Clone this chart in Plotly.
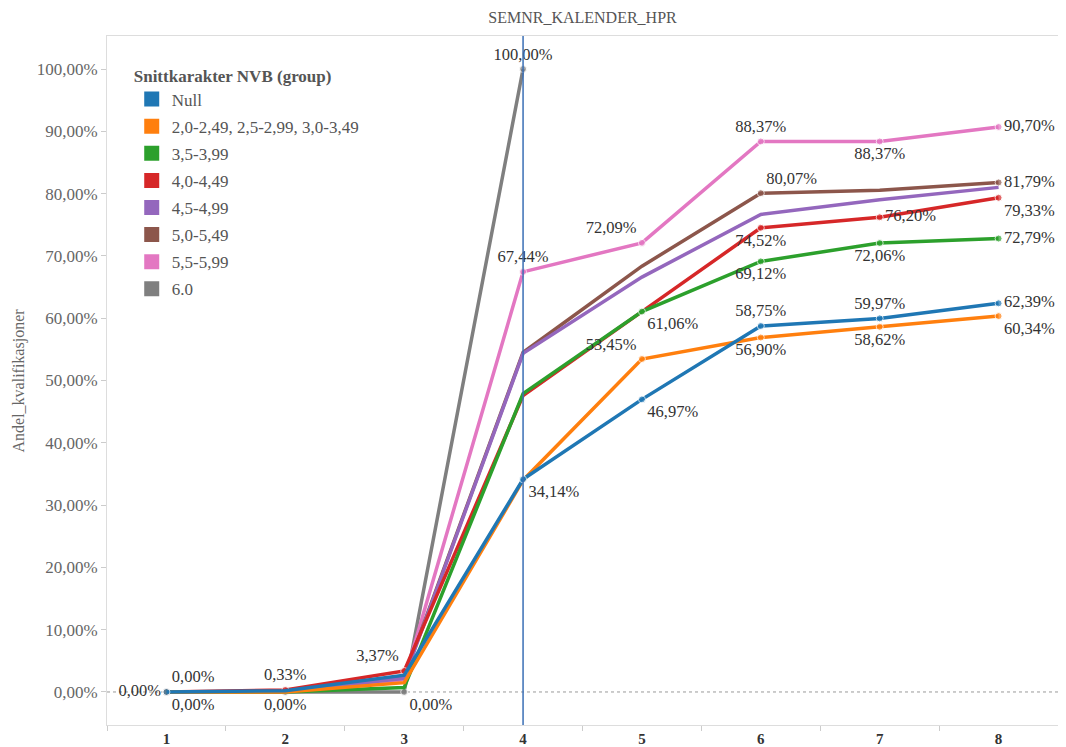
import plotly.graph_objects as go

kategorier = ["1", "2", "3", "4", "5", "6", "7", "8"]

grupper = ["Null", "2,0-2,49, 2,5-2,99, 3,0-3,49", "3,5-3,99", "4,0-4,49",
           "4,5-4,99", "5,0-5,49", "5,5-5,99", "6.0"]
farger = ["#1f77b4", "#ff7f0e", "#2ca02c", "#d62728",
          "#9467bd", "#8c564b", "#e377c2", "#7f7f7f"]

# andel kvalifikasjoner per semester (lest av bildet)
null_v = [0.0, 0.002, 0.027, 0.3414, 0.4697, 0.5875, 0.5997, 0.6239]
g20_v = [0.0, 0.0, 0.015, 0.340, 0.5345, 0.5690, 0.5862, 0.6034]
g35_v = [0.0, 0.0, 0.007, 0.479, 0.6106, 0.6912, 0.7206, 0.7279]
g40_v = [0.0, 0.0033, 0.0337, 0.476, 0.6106, 0.7452, 0.7620, 0.7933]
g45_v = [0.0, 0.001, 0.022, 0.5435, 0.666, 0.7665, 0.790, 0.810]
g50_v = [0.0, 0.001, 0.024, 0.545, 0.6835, 0.8007, 0.8055, 0.8179]
g55_v = [0.0, 0.0, 0.020, 0.6744, 0.7209, 0.8837, 0.8837, 0.9070]
g60_v = [0.0, 0.0, 0.0, 1.0, None, None, None, None]
verdier = [null_v, g20_v, g35_v, g40_v, g45_v, g50_v, g55_v, g60_v]

# hvilke punkter som har etikett, og hvor
etiketter = [
    {0: "top right", 3: "bottom right", 4: "bottom right", 5: "top center", 6: "top center", 7: "middle right"},
    {0: "bottom right", 4: "top left", 5: "bottom center", 6: "bottom center", 7: "bottom right"},
    {4: "bottom right", 5: "bottom center", 6: "bottom center", 7: "middle right"},
    {1: "top center", 2: "top left", 5: "bottom center", 6: "middle right", 7: "bottom right"},
    {0: "middle left"},
    {5: "top right", 7: "middle right"},
    {3: "top center", 4: "top left", 5: "top center", 6: "bottom center", 7: "middle right"},
    {1: "bottom center", 2: "bottom right", 3: "top center"},
]

SERIF = "Liberation Serif"


def pst(v):
    return ("%.2f" % (v * 100)).replace(".", ",") + "%"


fig = go.Figure()

# tegn baklengs slik at Null havner oeverst
for i in reversed(range(len(grupper))):
    ys = verdier[i]
    tekst = [pst(ys[j]) if j in etiketter[i] else "" for j in range(len(ys))]
    pos = [etiketter[i].get(j, "top center") for j in range(len(ys))]
    stoerrelse = [7 if j in etiketter[i] else 0 for j in range(len(ys))]
    fig.add_trace(go.Scatter(
        x=kategorier, y=ys, mode="lines+markers+text",
        line=dict(color=farger[i], width=3.5),
        marker=dict(color=farger[i], size=stoerrelse),
        text=tekst, textposition=pos,
        textfont=dict(family=SERIF, size=16.5, color="#333333"),
        cliponaxis=False, showlegend=False, hoverinfo="skip"))

for i in range(len(grupper)):
    fig.add_trace(go.Scatter(
        x=[None], y=[None], mode="markers", name=grupper[i],
        legendgroup=str(i),
        marker=dict(symbol="square", size=15, color=farger[i])))

fig.add_shape(type="line", xref="paper", yref="y", x0=0, x1=1, y0=0, y1=0,
              line=dict(color="#999999", width=1, dash="dot"), layer="below")
fig.add_shape(type="line", xref="x", yref="paper",
              x0=kategorier.index("4"), x1=kategorier.index("4"), y0=0, y1=1,
              line=dict(color="#3a6fb5", width=1.5), layer="above")

fig.add_annotation(text="Andel_kvalifikasjoner", xref="paper", yref="paper",
                   x=0, y=0.5, xshift=-89, xanchor="center", yanchor="middle",
                   textangle=-90, showarrow=False,
                   font=dict(family=SERIF, size=16, color="#666666"))

# siden har 8 px marg rundt figuren, saa figuren er litt mindre enn vinduet
fig.update_layout(
    width=1050, height=739,
    margin=dict(l=99, r=0, t=28, b=22),
    paper_bgcolor="white", plot_bgcolor="white",
    separators=",.",
    title=dict(text="SEMNR_KALENDER_HPR", x=0.5, xref="paper",
               y=1 - 9 / 739, yref="container", yanchor="middle",
               font=dict(family=SERIF, size=16, color="#555555")),
    xaxis=dict(type="category", range=[-0.5, 7.5], tickson="boundaries",
               ticks="outside", ticklen=5, tickcolor="#cccccc",
               showgrid=False, showline=True, linecolor="#dddddd",
               mirror=True, automargin=False,
               tickfont=dict(family=SERIF, size=15, color="#333333",
                             weight="bold")),
    yaxis=dict(range=[-0.053, 1.053], tickvals=[k / 10 for k in range(11)],
               tickformat=".2%", ticks="outside", ticklen=5,
               tickcolor="#cccccc", showgrid=False, zeroline=False,
               showline=True, linecolor="#dddddd", automargin=False,
               tickfont=dict(family=SERIF, size=17, color="#666666")),
    legend=dict(x=0.026, y=0.966, xanchor="left", yanchor="top",
                bgcolor="rgba(0,0,0,0)", tracegroupgap=2,
                traceorder="grouped",
                title=dict(text="<b>Snittkarakter NVB (group)</b>",
                           font=dict(family=SERIF, size=17, color="#555555")),
                font=dict(family=SERIF, size=17, color="#555555")),
)

fig.write_html("out.html")
